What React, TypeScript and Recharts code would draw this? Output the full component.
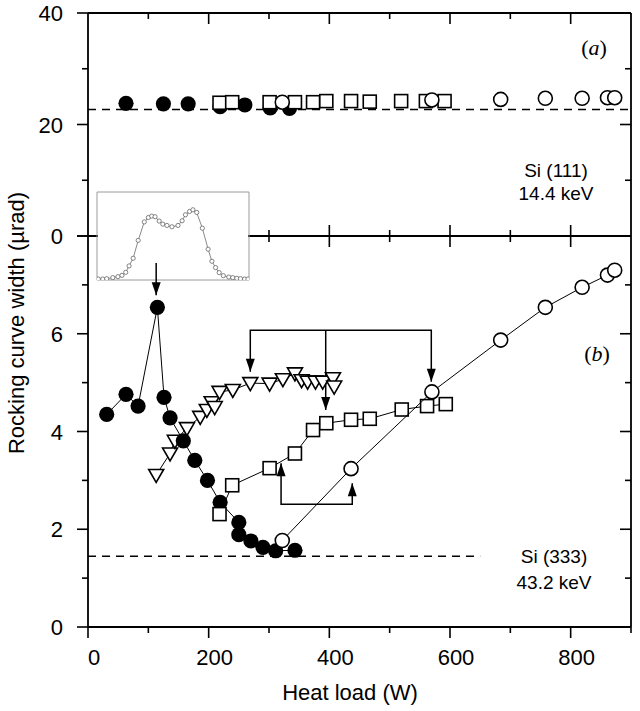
import React from 'react';
import { ScatterChart, Scatter, XAxis, YAxis, ReferenceLine, LineChart, Line } from 'recharts';

const FONT = '"Liberation Sans", Arial, Helvetica, sans-serif';
const SERIF = '"Liberation Serif", "Times New Roman", serif';

// ---- axis ticks ----
const xTicks = [0, 100, 200, 300, 400, 500, 600, 700, 800, 900];
const xTopTicksA = [100, 200, 300, 400, 500, 600, 700, 800];
const xTopTicksB = [300, 400, 500, 600, 700, 800];
const xTickLabels = [0, 200, 400, 600, 800];
const aYTicks = [0, 10, 20, 30, 40];
const aYTickLabels = [0, 20, 40];
const bYTicks = [0, 1, 2, 3, 4, 5, 6, 7, 8];
const bYTickLabels = [0, 2, 4, 6];

// ---- panel (a): Si(111), 14.4 keV ----
const aFilledX = [63, 125, 166, 219, 260, 302, 334];
const aFilledY = [23.8, 23.7, 23.7, 23.2, 23.5, 23.0, 22.9];
const aSquareX = [218, 239, 301, 343, 373, 395, 436, 467, 519, 560, 591];
const aSquareY = [23.9, 24.0, 24.0, 24.0, 24.0, 24.2, 24.2, 24.1, 24.2, 24.2, 24.2];
const aOpenX = [322, 570, 684, 758, 819, 861, 873];
const aOpenY = [24.0, 24.4, 24.5, 24.7, 24.7, 24.8, 24.8];
const aBaseline = 22.7;

// ---- panel (b): Si(333), 43.2 keV ----
const bFilledX = [31, 63, 83, 115, 126, 136, 158, 177, 198, 219, 250, 250, 270, 290, 311, 343];
const bFilledY = [4.35, 4.76, 4.52, 6.54, 4.70, 4.28, 3.81, 3.41, 3.0, 2.55, 2.14, 1.89, 1.76, 1.63, 1.56, 1.57];
const bTriX = [113, 136, 144, 164, 186, 197, 205, 210, 218, 240, 269, 301, 323, 343, 354, 364, 377, 389, 406, 408];
const bTriY = [3.11, 3.55, 3.81, 4.07, 4.30, 4.44, 4.60, 4.50, 4.81, 4.85, 4.99, 4.98, 5.07, 5.19, 5.05, 5.02, 5.02, 5.02, 5.09, 4.92];
const bSquareX = [218, 239, 301, 343, 373, 395, 436, 467, 520, 562, 593];
const bSquareY = [2.31, 2.90, 3.25, 3.55, 4.03, 4.17, 4.24, 4.26, 4.45, 4.52, 4.56];
const bOpenX = [322, 436, 570, 684, 758, 819, 861, 873];
const bOpenY = [1.77, 3.24, 4.81, 5.87, 6.54, 6.95, 7.20, 7.30];
const bBaseline = 1.45;
const bBaselineEnd = 650;

// ---- arrows (panel b) ----
const arrTopX = [269, 269, 569, 569];
const arrTopY = [5.22, 6.07, 6.07, 5.02];
const arrMidX = [394, 394];
const arrMidY = [6.07, 4.44];
const arrBotX = [320, 320, 438, 438];
const arrBotY = [3.35, 2.51, 2.51, 2.94];
const arrInsetX = [113, 113];
const arrInsetY = [7.45, 6.79];
const headDownX = [269, 394, 569, 113];
const headDownY = [5.22, 4.44, 5.02, 6.79];
const headUpX = [320, 438];
const headUpY = [3.35, 2.94];

// ---- inset: rocking curve profile ----
const insetX = [0.9, 3.8, 6.4, 10.4, 13.8, 16.4, 18.9, 21.1, 23.8, 27.1, 31.1, 33.8, 36, 38.2, 40.9, 43.3, 46, 49.3, 53.3, 56, 58.2, 60.9, 63.1, 65.6, 69.3, 73.1, 75.6, 78, 80.4, 83.1, 86.7, 89.3, 92, 94.4, 97.1, 99.3];
const insetY = [1.1, 1.1, 1.5, 2.7, 3.8, 5.3, 8.7, 16, 24.7, 45, 66, 71, 72.6, 71.9, 67, 63.5, 62, 60.5, 62, 67.3, 74.1, 77.9, 79.8, 76.8, 58.9, 35, 21.3, 14.1, 8.4, 4.9, 3.4, 2.7, 1.9, 1.5, 1.1, 1.1];
const insetXTicks = [15, 32.5, 50, 67.5, 85];
const insetYTicks = [13, 28, 43, 57, 72, 87];

const pts = (xs: number[], ys: number[]) => xs.map((x, i) => ({ x, y: ys[i] }));
const insetData = insetX.map((x, i) => ({ x, y: insetY[i] }));

const AXIS = { stroke: '#000', strokeWidth: 1.8 };

type Side = 'bottom' | 'top' | 'left' | 'right';
function makeTick(side: Side, inward: boolean, step: number, labels: number[]) {
  return (p: any) => {
    const x = p.x as number;
    const y = p.y as number;
    const v = p.payload.value as number;
    const major = Math.abs(v / step - Math.round(v / step)) < 1e-6;
    const len = major ? 11 : 6;
    let dx = 0;
    let dy = 0;
    if (side === 'bottom') dy = 1;
    else if (side === 'top') dy = -1;
    else if (side === 'left') dx = -1;
    else dx = 1;
    if (inward) {
      dx = -dx;
      dy = -dy;
    }
    const show = labels.includes(v);
    return (
      <g>
        <line x1={x} y1={y} x2={x + dx * len} y2={y + dy * len} stroke="#000" strokeWidth={1.6} />
        {show && side === 'bottom' ? (
          <text x={x + 6} y={y + 38} textAnchor="middle" fontSize={22} fontFamily={FONT} fill="#000">
            {v}
          </text>
        ) : null}
        {show && side === 'left' ? (
          <text x={x - 25} y={y + 8} textAnchor="end" fontSize={22} fontFamily={FONT} fill="#000">
            {v}
          </text>
        ) : null}
      </g>
    );
  };
}

const FilledCircle = (p: any) => <circle cx={p.cx} cy={p.cy} r={7.6} fill="#000" />;
const OpenCircle = (p: any) => <circle cx={p.cx} cy={p.cy} r={7} fill="#fff" stroke="#000" strokeWidth={1.6} />;
const OpenSquare = (p: any) => (
  <rect x={p.cx - 6.5} y={p.cy - 6.5} width={13} height={13} fill="#fff" stroke="#000" strokeWidth={1.6} />
);
const OpenTriDown = (p: any) => (
  <polygon
    points={`${p.cx - 7.5},${p.cy - 5.5} ${p.cx + 7.5},${p.cy - 5.5} ${p.cx},${p.cy + 7.5}`}
    fill="#fff"
    stroke="#000"
    strokeWidth={1.6}
    strokeLinejoin="miter"
  />
);
const HeadDown = (p: any) => (
  <polygon points={`${p.cx - 4.5},${p.cy - 13} ${p.cx + 4.5},${p.cy - 13} ${p.cx},${p.cy}`} fill="#000" />
);
const HeadUp = (p: any) => (
  <polygon points={`${p.cx - 4.5},${p.cy + 13} ${p.cx + 4.5},${p.cy + 13} ${p.cx},${p.cy}`} fill="#000" />
);
const NoDot = () => <g />;
const InsetDot = (p: any) => <circle cx={p.cx} cy={p.cy} r={2.1} fill="#fff" stroke="#666" strokeWidth={0.8} />;

const LINE = { stroke: '#000', strokeWidth: 1 };
const ARROW = { stroke: '#000', strokeWidth: 1.5 };

function PanelA() {
  return (
    <ScatterChart width={640} height={250} margin={{ top: 12, right: 8, bottom: 13, left: 0 }}>
      <XAxis
        type="number"
        dataKey="x"
        domain={[0, 900]}
        ticks={xTopTicksA}
        interval={0}
        height={1}
        tickSize={0}
        tickMargin={0}
        tickLine={false}
        axisLine={AXIS}
        tick={makeTick('bottom', true, 200, [])}
        allowDataOverflow
      />
      <XAxis
        xAxisId="t"
        orientation="top"
        type="number"
        dataKey="x"
        domain={[0, 900]}
        ticks={xTopTicksA}
        interval={0}
        height={1}
        tickSize={0}
        tickMargin={0}
        tickLine={false}
        axisLine={AXIS}
        tick={makeTick('top', true, 200, [])}
        allowDataOverflow
      />
      <YAxis
        type="number"
        dataKey="y"
        domain={[0, 40]}
        ticks={aYTicks}
        interval={0}
        width={88}
        tickSize={0}
        tickMargin={0}
        tickLine={false}
        axisLine={AXIS}
        tick={makeTick('left', false, 20, aYTickLabels)}
        allowDataOverflow
      />
      <YAxis
        yAxisId="r"
        orientation="right"
        type="number"
        dataKey="y"
        domain={[0, 40]}
        ticks={[10, 20, 30]}
        interval={0}
        width={1}
        tickSize={0}
        tickMargin={0}
        tickLine={false}
        axisLine={AXIS}
        tick={makeTick('right', true, 20, [])}
        allowDataOverflow
      />
      <ReferenceLine y={aBaseline} stroke="#000" strokeWidth={1.5} strokeDasharray="8 6" />
      <Scatter data={pts(aFilledX, aFilledY)} shape={FilledCircle} isAnimationActive={false} />
      <Scatter data={pts(aSquareX, aSquareY)} shape={OpenSquare} isAnimationActive={false} />
      <Scatter data={pts(aOpenX, aOpenY)} shape={OpenCircle} isAnimationActive={false} />
    </ScatterChart>
  );
}

function PanelB() {
  return (
    <ScatterChart width={640} height={711} margin={{ top: 235, right: 8, bottom: 0, left: 0 }}>
      <XAxis
        type="number"
        dataKey="x"
        domain={[0, 900]}
        ticks={xTicks}
        interval={0}
        height={84}
        tickSize={0}
        tickMargin={0}
        tickLine={false}
        axisLine={AXIS}
        tick={makeTick('bottom', false, 200, xTickLabels)}
        allowDataOverflow
      />
      <XAxis
        xAxisId="t"
        orientation="top"
        type="number"
        dataKey="x"
        domain={[0, 900]}
        ticks={xTopTicksB}
        interval={0}
        height={1}
        tickSize={0}
        tickMargin={0}
        tickLine={false}
        axisLine={false}
        tick={makeTick('top', true, 200, [])}
        allowDataOverflow
      />
      <YAxis
        type="number"
        dataKey="y"
        domain={[0, 8]}
        ticks={bYTicks}
        interval={0}
        width={88}
        tickSize={0}
        tickMargin={0}
        tickLine={false}
        axisLine={AXIS}
        tick={makeTick('left', false, 2, bYTickLabels)}
        allowDataOverflow
      />
      <YAxis
        yAxisId="r"
        orientation="right"
        type="number"
        dataKey="y"
        domain={[0, 8]}
        ticks={[1, 2, 3, 4, 5, 6, 7]}
        interval={0}
        width={1}
        tickSize={0}
        tickMargin={0}
        tickLine={false}
        axisLine={AXIS}
        tick={makeTick('right', true, 2, [])}
        allowDataOverflow
      />
      <ReferenceLine
        segment={[
          { x: 0, y: bBaseline },
          { x: bBaselineEnd, y: bBaseline },
        ]}
        stroke="#000"
        strokeWidth={1.5}
        strokeDasharray="8 6"
      />
      <Scatter data={pts(arrTopX, arrTopY)} line={ARROW} lineType="joint" shape={NoDot} isAnimationActive={false} />
      <Scatter data={pts(arrMidX, arrMidY)} line={ARROW} lineType="joint" shape={NoDot} isAnimationActive={false} />
      <Scatter data={pts(arrBotX, arrBotY)} line={ARROW} lineType="joint" shape={NoDot} isAnimationActive={false} />
      <Scatter data={pts(arrInsetX, arrInsetY)} line={ARROW} lineType="joint" shape={NoDot} isAnimationActive={false} />
      <Scatter data={pts(headDownX, headDownY)} shape={HeadDown} isAnimationActive={false} />
      <Scatter data={pts(headUpX, headUpY)} shape={HeadUp} isAnimationActive={false} />
      <Scatter data={pts(bTriX, bTriY)} line={LINE} lineType="joint" shape={OpenTriDown} isAnimationActive={false} />
      <Scatter data={pts(bFilledX, bFilledY)} line={LINE} lineType="joint" shape={FilledCircle} isAnimationActive={false} />
      <Scatter data={pts(bSquareX, bSquareY)} line={LINE} lineType="joint" shape={OpenSquare} isAnimationActive={false} />
      <Scatter data={pts(bOpenX, bOpenY)} line={LINE} lineType="joint" shape={OpenCircle} isAnimationActive={false} />
    </ScatterChart>
  );
}

const GREY = { stroke: '#9a9a9a', strokeWidth: 1 };

function Inset() {
  return (
    <LineChart width={158} height={96} data={insetData} margin={{ top: 3, right: 3, bottom: 3, left: 3 }}>
      <XAxis type="number" dataKey="x" domain={[0, 100]} ticks={insetXTicks} interval={0} height={1} tickSize={3} tick={false} tickLine={GREY} axisLine={GREY} allowDataOverflow />
      <XAxis xAxisId="t" orientation="top" type="number" dataKey="x" domain={[0, 100]} ticks={insetXTicks} interval={0} height={1} tickSize={3} tick={false} tickLine={GREY} axisLine={GREY} allowDataOverflow />
      <YAxis type="number" domain={[0, 100]} ticks={insetYTicks} interval={0} width={1} tickSize={3} mirror tick={false} tickLine={GREY} axisLine={GREY} allowDataOverflow />
      <YAxis yAxisId="r" orientation="right" type="number" domain={[0, 100]} ticks={insetYTicks} interval={0} width={1} tickSize={3} mirror tick={false} tickLine={GREY} axisLine={GREY} allowDataOverflow />
      <Line dataKey="y" stroke="#8a8a8a" strokeWidth={1} dot={InsetDot} isAnimationActive={false} />
    </LineChart>
  );
}

export default function App() {
  return (
    <div style={{ position: 'absolute', left: 0, top: 0, width: 640, height: 711, background: '#fff', overflow: 'hidden' }}>
      <div style={{ position: 'absolute', left: 0, top: 0 }}>
        <PanelA />
      </div>
      <div style={{ position: 'absolute', left: 98, top: 192, width: 150, height: 88, background: '#fff' }} />
      <div style={{ position: 'absolute', left: 94, top: 188 }}>
        <Inset />
      </div>
      <div style={{ position: 'absolute', left: 0, top: 0 }}>
        <PanelB />
      </div>
      <svg width={640} height={711} style={{ position: 'absolute', left: 0, top: 0, pointerEvents: 'none' }}>
        <text transform="translate(24,323) rotate(-90)" textAnchor="middle" fontSize={22} fontFamily={FONT} fill="#000">
          Rocking curve width (µrad)
        </text>
        <text x={350} y={700} textAnchor="middle" fontSize={22} fontFamily={FONT} fill="#000">
          Heat load (W)
        </text>
        <text x={594} y={55} textAnchor="middle" fontSize={22} fontFamily={SERIF} fill="#000">
          (<tspan fontStyle="italic">a</tspan>)
        </text>
        <text x={597} y={361} textAnchor="middle" fontSize={22} fontFamily={SERIF} fill="#000">
          (<tspan fontStyle="italic">b</tspan>)
        </text>
        <text x={556} y={177} textAnchor="middle" fontSize={19} fontFamily={FONT} fill="#000">
          Si (111)
        </text>
        <text x={556} y={200} textAnchor="middle" fontSize={19} fontFamily={FONT} fill="#000">
          14.4 keV
        </text>
        <text x={554} y={563} textAnchor="middle" fontSize={19} fontFamily={FONT} fill="#000">
          Si (333)
        </text>
        <text x={554} y={589} textAnchor="middle" fontSize={19} fontFamily={FONT} fill="#000">
          43.2 keV
        </text>
      </svg>
    </div>
  );
}
